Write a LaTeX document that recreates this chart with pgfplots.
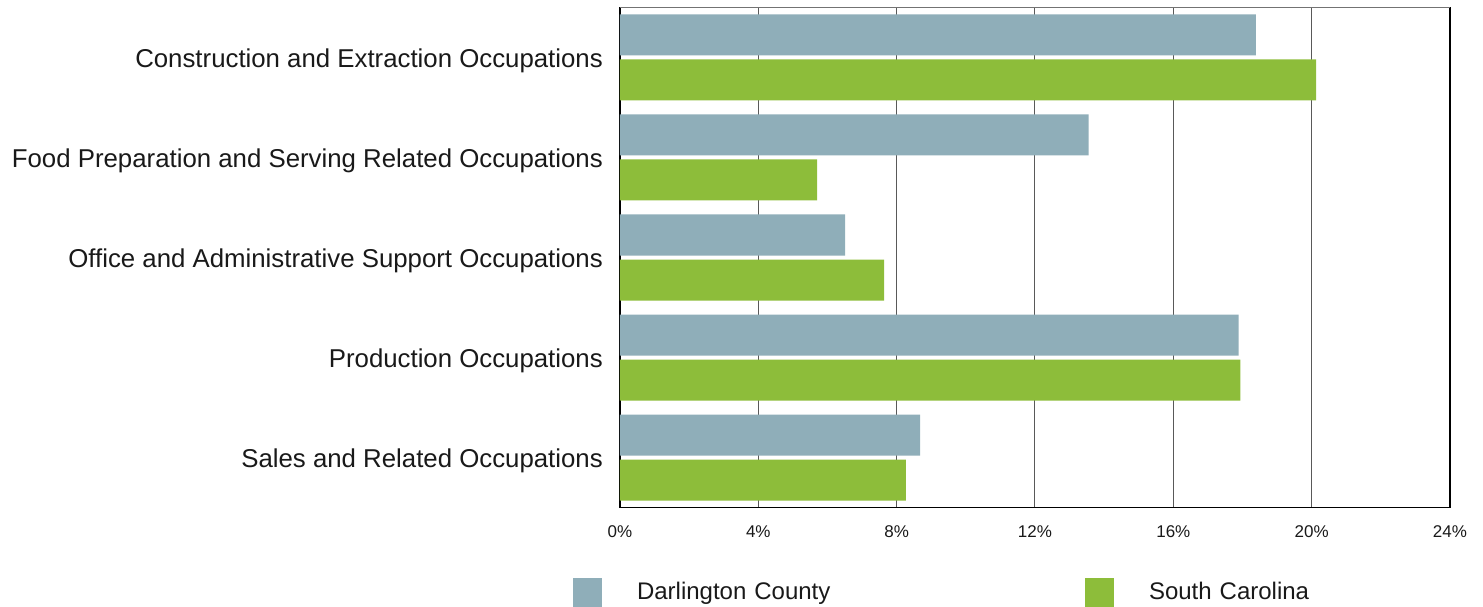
\documentclass[border=0pt]{standalone}
\usepackage{fontspec}
\setmainfont{Liberation Sans}
\usepackage{pgfplots}
\pgfplotsset{compat=1.18}
\usetikzlibrary{calc}
\definecolor{cgrey}{HTML}{8FAEB9}
\definecolor{cgreen}{HTML}{8DBD3A}
\begin{document}
\begin{tikzpicture}
\begin{axis}[
  name=ax,
  scale only axis,
  width=830pt, height=500pt,
  xbar, bar width=0.41,
  xmin=0, xmax=24,
  ymin=-0.5, ymax=4.5,
  y dir=reverse,
  ytick={0,1,2,3,4},
  yticklabels={Construction and Extraction Occupations,
    Food Preparation and Serving Related Occupations,
    Office and Administrative Support Occupations,
    Production Occupations,
    Sales and Related Occupations},
  xtick={0,4,8,12,16,20,24},
  xticklabel={\pgfmathprintnumber{\tick}\%},
  /pgf/number format/assume math mode=true,
  major tick length=0pt,
  xmajorgrids,
  grid style={black!65, line width=1pt},
  axis line style={black, line width=1.5pt},
  yticklabel style={font=\fontsize{25.8}{30}\selectfont, inner sep=0pt, xshift=-17pt, yshift=-3pt, text=black!90},
  xticklabel style={font=\fontsize{17}{20}\selectfont, inner sep=0pt, yshift=-18pt, text=black!90},
  legend columns=2,
  legend style={at={(-0.0566,-0.14)}, anchor=north west, draw=none, fill=none,
    inner sep=0pt, outer sep=0pt,
    font=\fontsize{24}{28}\selectfont,
    nodes={inner sep=0pt, text width=300pt, align=left, text=black!90},
    /tikz/every odd column/.append style={column sep=35pt},
    /tikz/every even column/.append style={column sep=148pt}},
  legend image code/.code={\fill[#1,draw=none] (0pt,-14.5pt) rectangle (29pt,14.5pt);},
]
\addplot[fill=cgrey, draw=none, bar shift=-0.225] coordinates {
 (18.39,0) (13.55,1) (6.51,2) (17.89,3) (8.68,4)};
\addplot[fill=cgreen, draw=none, bar shift=0.225] coordinates {
 (20.13,0) (5.70,1) (7.64,2) (17.94,3) (8.27,4)};
\legend{Darlington County, South Carolina}
\end{axis}
\draw[black!55, line width=1.5pt] (ax.north west) -- (ax.north east);
\path ($(ax.south west)+(-620pt,-98.5pt)$) rectangle ($(ax.north east)+(33pt,7.5pt)$);
\end{tikzpicture}
\end{document}
